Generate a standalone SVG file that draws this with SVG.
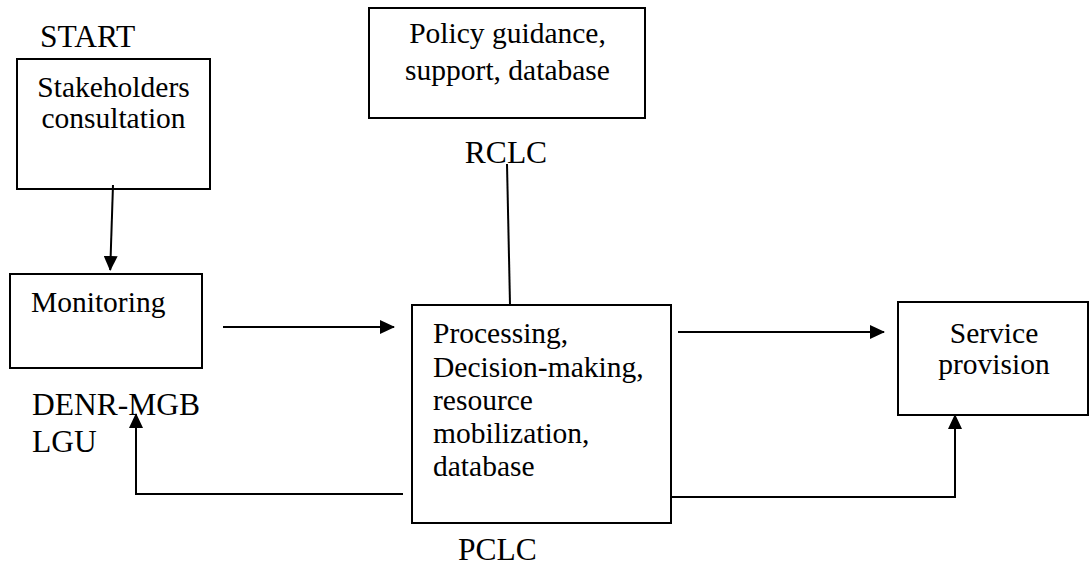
<svg xmlns="http://www.w3.org/2000/svg" width="1090" height="565" viewBox="0 0 1090 565">
<style>
  .box { fill: #ffffff; stroke: #000000; stroke-width: 2; }
  .t { font-family: "Liberation Serif", "Times New Roman", serif; font-size: 29.5px; fill: #000000; }
  .lbl { font-family: "Liberation Serif", "Times New Roman", serif; font-size: 31.5px; fill: #000000; }
  .c { text-anchor: middle; }
  .edge { fill: none; stroke: #000000; stroke-width: 2; }
</style>
<defs>
  <marker id="arrow" viewBox="0 0 15 14" refX="14" refY="7" markerWidth="15" markerHeight="14" markerUnits="userSpaceOnUse" orient="auto">
    <path d="M0,0 L15,7 L0,14 z" fill="#000000"/>
  </marker>
</defs>
<rect width="1090" height="565" fill="#ffffff"/>

<g id="label-start">
  <text class="lbl" x="40" y="47">START</text>
</g>

<g id="node-stakeholders">
  <rect class="box" x="17" y="59" width="193" height="130"/>
  <text class="t c" x="113.5" y="97">Stakeholders</text>
  <text class="t c" x="113.5" y="128">consultation</text>
</g>

<g id="node-monitoring">
  <rect class="box" x="10" y="274" width="192" height="94"/>
  <text class="t" x="31" y="312">Monitoring</text>
</g>

<g id="label-denr">
  <text class="lbl" x="32" y="415">DENR-MGB</text>
  <text class="lbl" x="32" y="452">LGU</text>
</g>

<g id="node-policy">
  <rect class="box" x="369" y="8" width="276" height="110"/>
  <text class="t c" x="507.5" y="43">Policy guidance,</text>
  <text class="t c" x="507.5" y="80">support, database</text>
</g>

<g id="label-rclc">
  <text class="lbl c" x="506" y="163">RCLC</text>
</g>

<g id="node-processing">
  <rect class="box" x="412" y="305" width="259" height="218"/>
  <text class="t" x="433" y="343">Processing,</text>
  <text class="t" x="433" y="377">Decision-making,</text>
  <text class="t" x="433" y="410">resource</text>
  <text class="t" x="433" y="443">mobilization,</text>
  <text class="t" x="433" y="476">database</text>
</g>

<g id="label-pclc">
  <text class="lbl" x="458" y="560">PCLC</text>
</g>

<g id="node-service">
  <rect class="box" x="898" y="302" width="190" height="113"/>
  <text class="t c" x="994" y="343">Service</text>
  <text class="t c" x="994" y="374">provision</text>
</g>

<g id="connectors">
  <path class="edge" d="M113,185 L110.2,270" marker-end="url(#arrow)"/>
  <path class="edge" d="M223,327 L394,327" marker-end="url(#arrow)"/>
  <path class="edge" d="M403,494 L136,494 L136,414" marker-end="url(#arrow)"/>
  <path class="edge" d="M507,164 L510,304"/>
  <path class="edge" d="M678,332 L884,332" marker-end="url(#arrow)"/>
  <path class="edge" d="M672,497 L955,497 L955,415" marker-end="url(#arrow)"/>
</g>
</svg>
